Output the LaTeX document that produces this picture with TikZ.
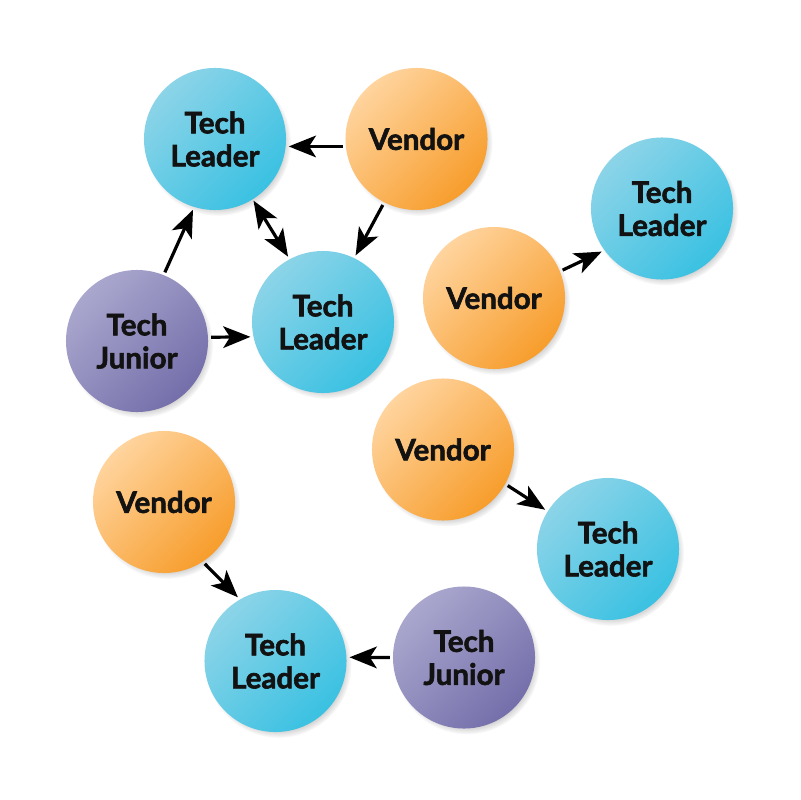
\documentclass[tikz,border=0pt]{standalone}
\usepackage{fontspec}
\setmainfont{Lato}[BoldFeatures={FakeBold=2}]
\usetikzlibrary{arrows.meta,shadows}
\definecolor{bluelight}{RGB}{140,212,232}
\definecolor{bluedark}{RGB}{58,193,226}
\definecolor{orangelight}{RGB}{255,212,158}
\definecolor{orangedark}{RGB}{247,157,44}
\definecolor{purplelight}{RGB}{170,167,206}
\definecolor{purpledark}{RGB}{116,111,170}
\definecolor{txt}{RGB}{18,18,18}
\tikzset{
  bubble/.style={circle, minimum size=3.55cm, inner sep=0pt, align=center,
    text=txt, font=\fontsize{21}{23.5}\selectfont\bfseries,
    circular drop shadow={shadow xshift=0.07cm, shadow yshift=-0.09cm, shadow scale=1.03, opacity=0.5}},
  leader/.style={bubble, top color=bluelight, bottom color=bluedark, shading angle=45},
  vendor/.style={bubble, top color=orangelight, bottom color=orangedark, shading angle=45},
  junior/.style={bubble, top color=purplelight, bottom color=purpledark, shading angle=45},
  tip/.tip={Stealth[length=0.68cm,width=0.54cm,inset=0.17cm]},
  arr/.style={-tip, line width=0.08cm, black, shorten >=2pt, shorten <=2pt},
  darr/.style={tip-tip, line width=0.08cm, black, shorten >=2pt, shorten <=1pt}
}
\begin{document}
\begin{tikzpicture}[x=0.025cm,y=-0.025cm]
\useasboundingbox (0,0) rectangle (800,800);
\fill[white] (0,0) rectangle (800,800);
\node[leader] (t1) at (215,139) {Tech\\Leader};
\node[vendor] (v1) at (416.5,139) {Vendor};
\node[leader] (t2) at (323,322) {Tech\\Leader};
\node[junior] (j1) at (137,341) {Tech\\Junior};
\node[vendor] (v2) at (494,298) {Vendor};
\node[leader] (t3) at (662,208.5) {Tech\\Leader};
\node[vendor] (v3) at (443,449.5) {Vendor};
\node[leader] (t4) at (608,549) {Tech\\Leader};
\node[vendor] (v4) at (164,502) {Vendor};
\node[leader] (t5) at (275.5,661) {Tech\\Leader};
\node[junior] (j2) at (464,657.5) {Tech\\Junior};

\draw[arr] (v1.186) -- (t1.-6);
\draw[arr] (v1.-117.6) -- (t2.64.4);
\draw[darr] (t1.-58) -- (t2.118.6);
\draw[arr] (j1.68.9) -- (t1.-107.4);
\draw[arr] (j1.3) -- (t2.192);
\draw[arr] (v2.22.4) -- (t3.216);
\draw[arr] (v3.-29) -- (t4.148);
\draw[arr] (v4.-57) -- (t5.120.8);
\draw[arr] (j2.180) -- (t5.3);
\end{tikzpicture}
\end{document}
